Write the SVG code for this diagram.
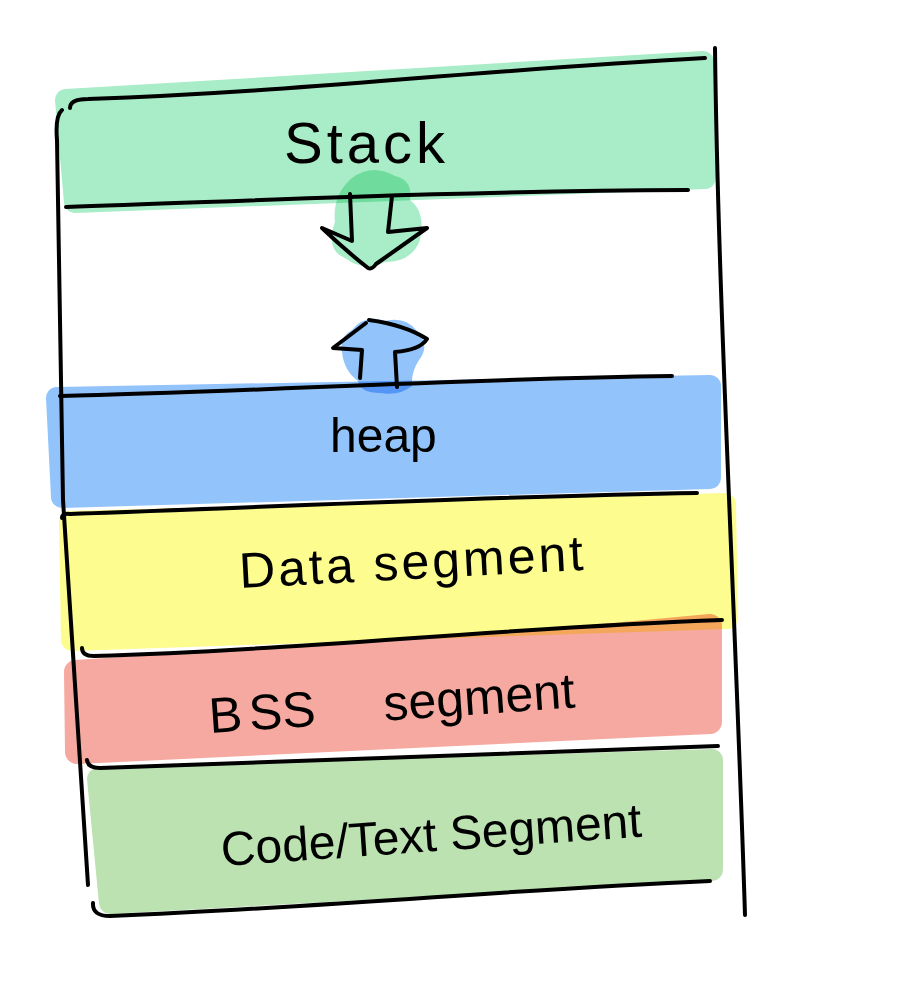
<svg xmlns="http://www.w3.org/2000/svg" width="913" height="1000" viewBox="0 0 913 1000">
<style>
.fill{mix-blend-mode:multiply;stroke-linejoin:round}
.ink{fill:none;stroke:#000;stroke-width:4;stroke-linecap:round;stroke-linejoin:round}
.lbl{font-family:"Liberation Sans","DejaVu Sans",sans-serif;fill:#000}
</style>
<rect width="913" height="1000" fill="#fff"/>
<g style="isolation:isolate">
<g id="stack">
<polygon class="fill" points="66,100 703,62 705,178 75,202" fill="#a8edc8" stroke="#a8edc8" stroke-width="22"/>
<text class="lbl" x="284" y="163" font-size="58" letter-spacing="4">Stack</text>
</g>
<g id="heap">
<polygon class="fill" points="57,398 710,386 710,478 62,497" fill="#93c3fb" stroke="#93c3fb" stroke-width="22"/>
<text class="lbl" x="330" y="452" font-size="48">heap</text>
</g>
<g id="data-segment">
<polygon class="fill" points="70,522 725,504 727,618 72,640" fill="#fdfc8f" stroke="#fdfc8f" stroke-width="22"/>
<text class="lbl" x="240" y="588" font-size="50" letter-spacing="3" transform="rotate(-3 240 588)">Data segment</text>
</g>
<g id="bss-segment">
<polygon class="fill" points="76,672 560,640 710,626 710,722 77,752" fill="#f6a9a0" stroke="#f6a9a0" stroke-width="24"/>
<text class="lbl" font-size="50" transform="rotate(-4 210 733)"><tspan x="210" y="733">B</tspan><tspan x="250" y="733">SS</tspan><tspan x="385" y="733">segment</tspan></text>
</g>
<g id="code-text-segment">
<polygon class="fill" points="98,779 712,760 712,870 110,903" fill="#bce2b1" stroke="#bce2b1" stroke-width="22"/>
<text class="lbl" x="222" y="866" font-size="48" transform="rotate(-4 222 866)">Code/Text Segment</text>
</g>
<g id="growth-arrows">
<path class="fill" d="M352,178 Q372,163 395,176 Q413,180 410,200 Q426,212 420,240 Q412,262 385,262 Q365,273 345,258 Q325,250 335,222 Q332,195 352,178 Z" fill="#a8edc8"/>
<path class="fill" d="M352,330 Q365,314 385,321 Q405,316 416,330 Q431,345 419,360 Q411,372 412,386 Q400,396 380,393 Q360,393 358,381 Q344,371 342,352 Q339,337 352,330 Z" fill="#93c3fb"/>
</g>
</g>
<g id="connectors">
<path class="ink" d="M62,110 Q55,116 57,140 L63,500 L76,700 L88,885"/>
<path class="ink" d="M715,48 C718,300 735,600 745,915"/>
<path class="ink" d="M70,108 Q70,99 88,99 C300,92 450,72 705,58"/>
<path class="ink" d="M66,207 C250,201 450,191 688,190"/>
<path class="ink" d="M60,396 C250,392 450,379 672,376"/>
<path class="ink" d="M62,518 Q62,513 70,514 C300,506 500,496 697,493"/>
<path class="ink" d="M82,648 Q82,656 94,656 C300,650 500,628 722,620"/>
<path class="ink" d="M87,760 Q88,768 100,768 C300,761 500,752 718,746"/>
<path class="ink" d="M93,903 Q92,916 110,916 C350,906 500,890 710,881"/>
<path class="ink" d="M350,194 L352,241 L322,228 Q345,250 368,268 Q372,270 376,264 L427,228 L388,232 L392,196"/>
<path class="ink" d="M360,378 L362,350 L333,348 L366,323"/>
<path class="ink" d="M369,320 Q405,325 427,339 Q420,350 395,352 L397,387"/>
</g>
</svg>
